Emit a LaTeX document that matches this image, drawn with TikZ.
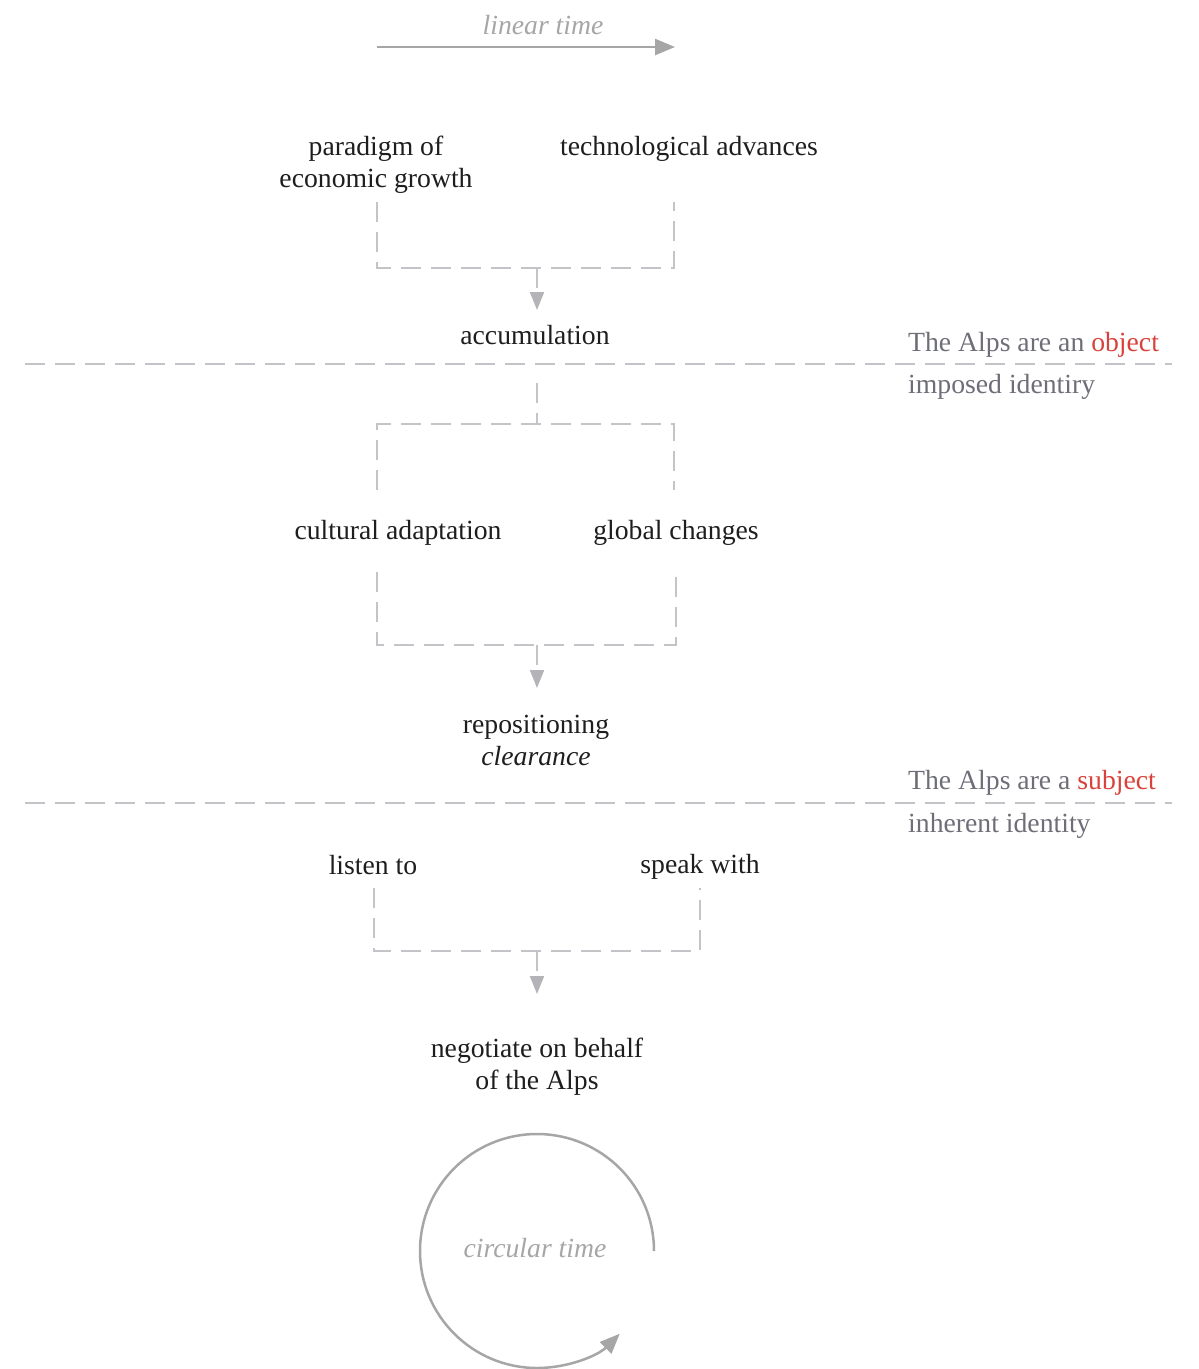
\documentclass[tikz,border=0pt]{standalone}
\usepackage{fontspec}
\setmainfont{Liberation Serif}
\usetikzlibrary{arrows.meta}
\definecolor{ink}{HTML}{1E1E1E}
\definecolor{dashgray}{HTML}{C4C4C8}
\definecolor{tipgray}{HTML}{B4B4B8}
\definecolor{timegray}{HTML}{A6A6A6}
\definecolor{sidegray}{HTML}{6E6E78}
\definecolor{accent}{HTML}{D9423A}
\begin{document}
\begin{tikzpicture}[x=1pt,y=1pt,
  lbl/.style={font=\fontsize{27.7}{32}\selectfont, text=ink, align=center, inner sep=0pt},
  timelbl/.style={font=\fontsize{27.7}{32}\selectfont\itshape, text=timegray, inner sep=0pt},
  side/.style={font=\fontsize{27.7}{32}\selectfont, text=sidegray, anchor=west, inner sep=0pt},
  link/.style={draw=dashgray, line width=2pt, dash pattern=on 20pt off 10pt},
  linkarrow/.style={link, -{Triangle[width=14pt,length=18pt,fill=tipgray,color=tipgray]}},
  divider/.style={draw=dashgray, line width=2pt, dash pattern=on 20pt off 10pt},
  timearrow/.style={draw=timegray, line width=2.5pt, -{Triangle[width=16pt,length=20pt]}},
]
\path[use as bounding box] (0,0) rectangle (1199,-1369);

% linear time
\node[timelbl] (linear) at (543,-25) {linear time};
\coordinate (lin0) at (377,-47);
\coordinate (lin1) at (675,-47);
\draw[timearrow] (lin0) -- (lin1);

% first stage
\node[lbl] (paradigm) at (376,-165) {paradigm of\\economic growth};
\node[lbl] (tech) at (689,-149) {technological advances};
\node[lbl] (accum) at (535,-335) {accumulation};
\coordinate (b1l) at (377,-202);
\coordinate (b1r) at (674,-202);
\coordinate (b1m) at (537,-268);
\coordinate (b1t) at (537,-310);
\draw[link] (b1l) |- (b1m) -| (b1r);
\draw[linkarrow] (b1m) -- (b1t);

% object divider
\coordinate (d1a) at (25,-364);
\coordinate (d1b) at (1172,-364);
\draw[divider] (d1a) -- (d1b);
\node[side] (object) at (908,-345) {The Alps are an \textcolor{accent}{object}};
\node[side] (imposed) at (908,-387) {imposed identiry};

% second stage
\coordinate (b2t) at (537,-383);
\coordinate (b2m) at (537,-424);
\coordinate (b2l) at (377,-490);
\coordinate (b2r) at (674,-490);
\draw[link] (b2t) -- (b2m);
\draw[link] (b2l) |- (b2m) -| (b2r);
\node[lbl] (cultural) at (398,-533) {cultural adaptation};
\node[lbl] (global) at (676,-533) {global changes};
\coordinate (b3l) at (377,-572);
\coordinate (b3r) at (676,-572);
\coordinate (b3m) at (537,-645);
\coordinate (b3t) at (537,-688);
\draw[link] (b3l) |- (b3m) -| (b3r);
\draw[linkarrow] (b3m) -- (b3t);
\node[lbl] (repos) at (536,-740) {repositioning\\\textit{clearance}};

% subject divider
\coordinate (d2a) at (25,-803);
\coordinate (d2b) at (1172,-803);
\draw[divider] (d2a) -- (d2b);
\node[side] (subject) at (908,-783) {The Alps are a \textcolor{accent}{subject}};
\node[side] (inherent) at (908,-826) {inherent identity};

% third stage
\node[lbl] (listen) at (373,-865) {listen to};
\node[lbl] (speak) at (700,-867) {speak with};
\coordinate (b4l) at (374,-888);
\coordinate (b4r) at (700,-888);
\coordinate (b4m) at (537,-951);
\coordinate (b4t) at (537,-994);
\draw[link] (b4l) |- (b4m) -| (b4r);
\draw[linkarrow] (b4m) -- (b4t);
\node[lbl] (negotiate) at (537,-1067) {negotiate on behalf\\of the Alps};

% circular time
\coordinate (circ0) at (654,-1251);
\draw[timearrow] (circ0) arc[start angle=0, end angle=315, radius=117pt];
\node[timelbl] (circular) at (535,-1248) {circular time};
\end{tikzpicture}
\end{document}
